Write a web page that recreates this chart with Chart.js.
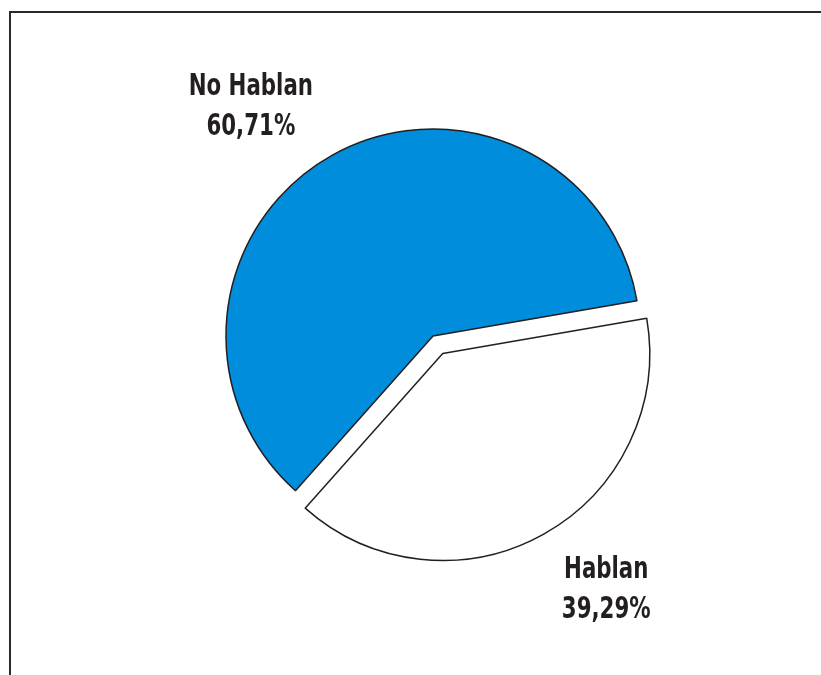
<!DOCTYPE html>
<html>
<head>
<meta charset="utf-8">
<script src="https://cdn.jsdelivr.net/npm/chart.js@4/dist/chart.umd.min.js"></script>
<style>
  html, body { margin: 0; padding: 0; background: #fff; }
  #wrap { position: relative; width: 821px; height: 675px; overflow: hidden; }
  #frame { position: absolute; left: 9px; top: 11px; width: 900px; height: 700px;
           border-top: 2.5px solid #2a2a2a; border-left: 2.5px solid #2a2a2a; box-sizing: border-box; }
  #c { position: absolute; left: 0; top: 0; }
</style>
</head>
<body>
<div id="wrap">
  <div id="frame"></div>
  <canvas id="c" width="821" height="675"></canvas>
</div>
<script>
const categories = ['Hablan', 'No Hablan'];
const values = [39.29, 60.71];
const sliceColors = ['#ffffff', '#008ddc'];
const explode = [20, 0];

const explodePlugin = {
  id: 'explodeSlices',
  afterDatasetsUpdate(chart) {
    const meta = chart.getDatasetMeta(0);
    meta.data.forEach((arc, i) => {
      const d = explode[i] || 0;
      if (!d) return;
      const mid = (arc.startAngle + arc.endAngle) / 2;
      arc.x += Math.cos(mid) * d;
      arc.y += Math.sin(mid) * d;
    });
  }
};

const labelPlugin = {
  id: 'sliceLabels',
  afterDatasetsDraw(chart, args, opts) {
    const ctx = chart.ctx;
    const meta = chart.getDatasetMeta(0);
    meta.data.forEach((arc, i) => {
      const pos = opts.anchors[i];
      const bx = arc.x + pos[0] * arc.outerRadius;
      const by = arc.y + pos[1] * arc.outerRadius;
      ctx.save();
      ctx.fillStyle = '#231f20';
      ctx.font = 'bold 30px "Liberation Sans Narrow", "DejaVu Sans Condensed", sans-serif';
      ctx.textAlign = 'center';
      ctx.textBaseline = 'alphabetic';
      ctx.translate(bx, by);
      ctx.scale(0.79, 1);
      ctx.fillText(categories[i], 0, -9);
      ctx.fillText(values[i].toFixed(2).replace('.', ',') + '%', 0, 31);
      ctx.restore();
    });
  }
};

new Chart(document.getElementById('c'), {
  type: 'pie',
  data: {
    labels: categories,
    datasets: [{
      data: values,
      backgroundColor: sliceColors,
      borderColor: '#231f20',
      borderWidth: 1.5,
      hoverOffset: 0
    }]
  },
  options: {
    responsive: false,
    animation: false,
    events: [],
    rotation: 80.2,
    radius: 207,
    layout: { padding: { left: 45, right: 0, top: 0, bottom: 3 } },
    plugins: {
      legend: { display: false },
      tooltip: { enabled: false },
      sliceLabels: { anchors: [[0.79, 1.13], [-0.88, -1.12]] }
    }
  },
  plugins: [explodePlugin, labelPlugin]
});
</script>
</body>
</html>
